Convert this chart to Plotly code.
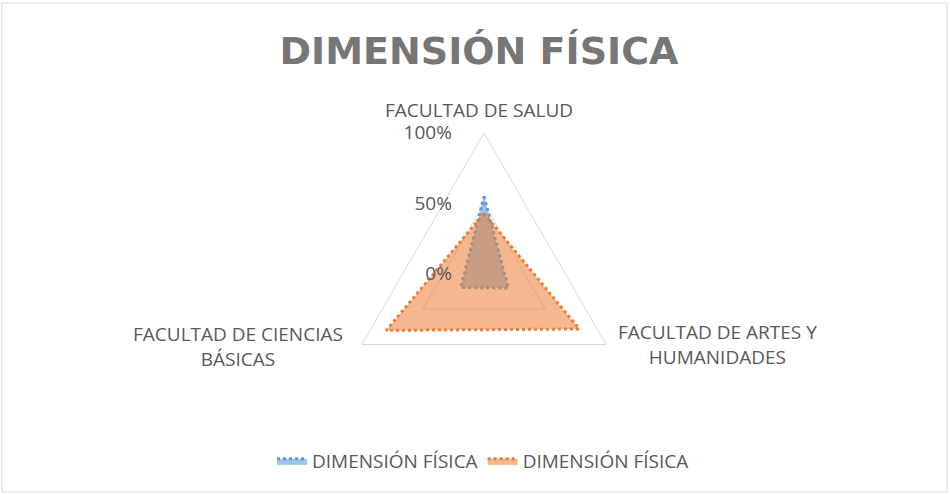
import plotly.graph_objects as go

categories = ["FACULTAD DE SALUD", "FACULTAD DE ARTES Y<br>HUMANIDADES", "FACULTAD DE CIENCIAS<br>BÁSICAS"]
series_names = ["DIMENSIÓN FÍSICA", "DIMENSIÓN FÍSICA"]
blue_values = [0.55, 0.20, 0.19]
orange_values = [0.43, 0.78, 0.80]
radial_tickvals = [0, 0.5, 1.0]
radial_ticktext = ["0%", "50%", "100%"]
title_text = "DIMENSIÓN FÍSICA"

FONT = "Open Sans"
GRAY = "rgb(89,89,89)"
W, H = 950, 495

def closed(vals):
    return list(vals) + [vals[0]]

fig = go.Figure()
fig.add_trace(go.Scatterpolar(
    r=closed(blue_values), theta=closed(categories), name=series_names[0],
    mode="lines", fill="toself", fillcolor="rgba(91,155,213,0.6)",
    line=dict(color="rgb(91,155,213)", width=3, dash="dot"),
))
fig.add_trace(go.Scatterpolar(
    r=closed(orange_values), theta=closed(categories), name=series_names[1],
    mode="lines", fill="toself", fillcolor="rgba(237,125,49,0.55)",
    line=dict(color="rgb(237,125,49)", width=3, dash="dot"),
))

# category label placement (label centres, pixels)
label_pos = [(479, 110), (717, 344), (238, 346)]
annotations = []
for cat, (px, py) in zip(categories, label_pos):
    annotations.append(dict(text=cat, x=px / W, y=1 - py / H, xref="paper", yref="paper",
                            xanchor="center", yanchor="middle", align="center", showarrow=False,
                            font=dict(family=FONT, size=19, color=GRAY)))

cx, cy, R = 484, 274, 141
fig.update_layout(
    width=W, height=H,
    margin=dict(l=0, r=0, t=0, b=0),
    paper_bgcolor="white",
    font=dict(family=FONT, size=18, color=GRAY),
    title=dict(text="<b>" + title_text + "</b>", x=479 / W, xanchor="center",
               y=1 - 51 / H, yanchor="middle",
               font=dict(family="DejaVu Sans", size=38, color="rgb(118,118,118)")),
    polar=dict(
        domain=dict(x=[(cx - R) / W, (cx + R) / W], y=[1 - (cy + R) / H, 1 - (cy - R) / H]),
        bgcolor="white",
        gridshape="linear",
        radialaxis=dict(range=[0, 1], tickvals=radial_tickvals, ticktext=radial_ticktext,
                        showline=False, ticks="outside", ticklen=25, tickcolor="rgba(0,0,0,0)",
                        gridcolor="rgb(217,217,217)", gridwidth=1,
                        angle=90, side="counterclockwise", tickangle=90,
                        tickfont=dict(family=FONT, size=19, color=GRAY)),
        angularaxis=dict(direction="clockwise", rotation=90, showgrid=False,
                         showline=True, linecolor="rgb(217,217,217)", linewidth=1,
                         ticks="", showticklabels=False),
    ),
    legend=dict(orientation="h", x=483 / W, xanchor="center", y=1 - 461 / H, yanchor="middle",
                font=dict(family=FONT, size=19, color=GRAY), itemwidth=30),
    annotations=annotations,
    shapes=[dict(type="rect", xref="paper", yref="paper", x0=0.002, x1=0.997, y0=0.006, y1=0.994,
                 line=dict(color="rgb(217,217,217)", width=1), fillcolor="rgba(0,0,0,0)", layer="below")],
)

fig.write_html("out.html", config={"displayModeBar": False},
               post_script="document.body.style.margin='0';document.body.style.padding='0';")
